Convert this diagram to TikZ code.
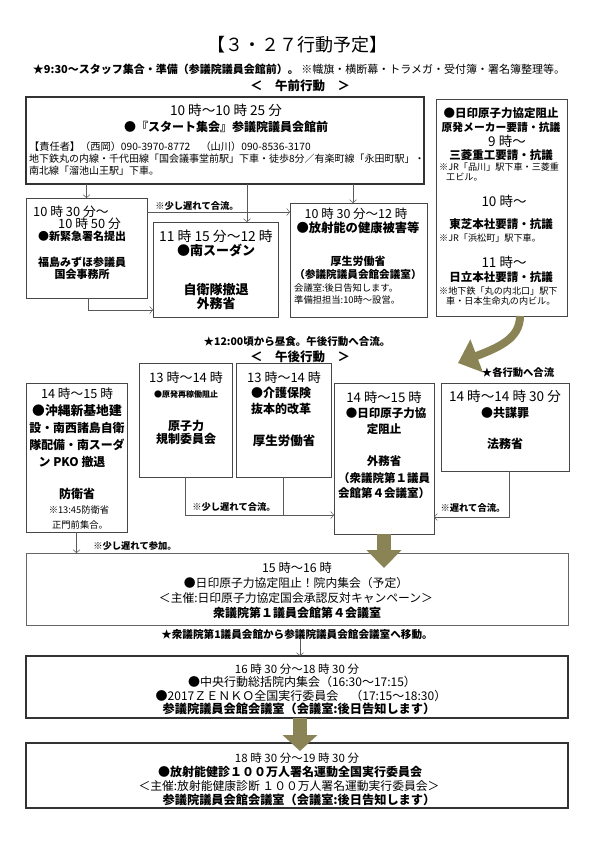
\documentclass[tikz,border=0pt]{standalone}
\usepackage{fontspec}
\setmainfont{Noto Sans CJK JP}
\usetikzlibrary{arrows.meta,fit}
\definecolor{khaki}{RGB}{137,131,85}
\tikzset{
 bx/.style={draw=black!72, line width=0.7pt, inner sep=0pt, outer sep=0pt},
 thbx/.style={draw=black!80, line width=1.6pt, inner sep=0pt, outer sep=0pt},
 tx/.style={inner sep=0pt, text height=9pt, text depth=1pt, font=\fontsize{11.5}{13}\selectfont},
 tm/.style={tx, font=\fontsize{#1}{13}\selectfont},
 tm/.default=11,
 bt/.style={tx, font=\bfseries\fontsize{#1}{13}\selectfont},
 bt/.default=11.5,
 sm/.style={tx, font=\fontsize{#1}{11}\selectfont},
 sm/.default=9.3,
 lb/.style={tx, font=\bfseries\fontsize{#1}{10}\selectfont},
 lb/.default=9.3,
 conn/.style={draw=black!65, line width=0.5pt, -{Straight Barb[length=3pt,width=7pt]}},
 ln/.style={draw=black!65, line width=0.5pt},
 bigarr/.style={draw=khaki, line width=14pt, -{Triangle[length=18pt,width=34pt]}},
}
\begin{document}
\begin{tikzpicture}[x=1pt,y=-1pt]
\useasboundingbox (0,0) rectangle (595,841);
\fill[white] (0,0) rectangle (595,841);

% header
\node[tm=18] (title) at (297,47) {【３・２７行動予定】};
\node[tm=11] (prep) at (299,69) {\textbf{★9:30～スタッフ集合・準備（参議院議員会館前）。} ※幟旗・横断幕・トラメガ・受付簿・署名簿整理等。};
\node[bt=12.5] (am) at (300,86) {＜　午前行動　＞};

% top box
\node[thbx, fit={(26,97)(424,184)}] (T) {};
\node[tm=13.6] (t1) at (226,111) {10 時～10 時 25 分};
\node[bt=12] (t2) at (226,127) {●『スタート集会』参議院議員会館前};
\node[sm=10.2, anchor=west] (t3) at (29,146) {【責任者】（西岡）090-3970-8772　（山川）090-8536-3170};
\node[sm=10, anchor=west] (t4) at (29,158) {地下鉄丸の内線・千代田線「国会議事堂前駅」下車・徒歩8分／有楽町線「永田町駅」・};
\node[sm=10, anchor=west] (t5) at (29,170) {南北線「溜池山王駅」下車。};

% right column box D
\node[bx, fit={(436,99)(567,316)}] (D) {};
\node[bt] (d1) at (501,113) {●日印原子力協定阻止};
\node[bt=10.8] (d2) at (501,127) {原発メーカー要請・抗議};
\node[tm=13.5] (d3) at (507,142) {9 時～};
\node[bt] (d4) at (501,155) {三菱重工要請・抗議};
\node[sm=9.1, anchor=west] (d5) at (439,166) {※JR「品川」駅下車・三菱重};
\node[sm=9.1, anchor=west] (d6) at (446,176) {工ビル。};
\node[tm=13.5] (d7) at (504,202) {10 時～};
\node[bt] (d8) at (501,224) {東芝本社要請・抗議};
\node[sm=9.1, anchor=west] (d9) at (439,237) {※JR「浜松町」駅下車。};
\node[tm=13.5] (d10) at (504,263) {11 時～};
\node[bt] (d11) at (501,277) {日立本社要請・抗議};
\node[sm=9.1, anchor=west] (d12) at (439,290) {※地下鉄「丸の内北口」駅下};
\node[sm=9.1, anchor=west] (d13) at (446,300) {車・日本生命丸の内ビル。};

% box A
\node[bx, fit={(26,198)(147,298)}] (A) {};
\node[tm=12.8, anchor=west] (a1) at (33,212) {10 時 30 分～};
\node[tm=12.8, anchor=west] (a2) at (58,224) {10 時 50 分};
\node[bt=11] (a3) at (82,236) {●新緊急署名提出};
\node[bt=11] (a4) at (82,262) {福島みずほ参議員};
\node[bt=11] (a5) at (82,274) {国会事務所};

% box B
\node[bx, fit={(153,222)(278,317)}] (B) {};
\node[tm=13.8] (b1) at (216,237) {11 時 15 分～12 時};
\node[bt=13] (b2) at (216,251) {●南スーダン};
\node[bt=13] (b3) at (216,290) {自衛隊撤退};
\node[bt=13] (b4) at (216,304) {外務省};

% box C
\node[bx, fit={(290,203)(427,317)}] (C) {};
\node[tm=12.5] (c1) at (356,214) {10 時 30 分～12 時};
\node[bt=12.3] (c2) at (358,228) {●放射能の健康被害等};
\node[bt=11] (c3) at (358,261) {厚生労働省};
\node[bt=10.6] (c4) at (358,274) {（参議院議員会館会議室）};
\node[sm, anchor=west] (c5) at (294,287) {会議室:後日告知します。};
\node[sm, anchor=west] (c6) at (294,299) {準備担担当:10時～設営。};

% morning connectors
\draw[conn] (T.south -| A.north) -- (A.north);
\draw[conn] (T.south -| 247,0) -- (B.north -| 247,0);
\draw[conn] (T.south -| 353,0) -- (C.north -| 353,0);
\draw[conn] (A.east |- 0,212) -- (C.west |- 0,212);
\node[lb] (l1) at (197,205) {※少し遅れて合流。};
\draw[conn] (A.south -| 88,0) |- (B.west |- 0,310);

% curved arrow
\draw[draw=khaki, line width=8pt, -{Triangle[length=20pt,width=34pt]}] (D.south -| 520,0) .. controls (520,338) and (500,347) .. (458,363);

% afternoon header
\node[lb=10.5] (noon) at (297,341) {★12:00頃から昼食。午後行動へ合流。};
\node[bt=12.5] (pm) at (300,357) {＜　午後行動　＞};
\node[lb=10.3] (each) at (518,372) {★各行動へ合流};

% box E
\node[bx, fit={(26,383)(127,532)}] (E) {};
\node[tm=12.7] (e1) at (77,394) {14 時～15 時};
\node[bt=12.8] (e2) at (77,411) {●沖縄新基地建};
\node[bt=11.9] (e3) at (77,428) {設・南西諸島自衛};
\node[bt=11.9] (e4) at (77,445) {隊配備・南スーダ};
\node[bt=11.9] (e5) at (72,462) {ン PKO 撤退};
\node[bt=12] (e6) at (77,494) {防衛省};
\node[sm] (e7) at (79,509) {※13:45防衛省};
\node[sm] (e8) at (80,524) {正門前集合。};

% box F
\node[bx, fit={(139,363)(232,477)}] (F) {};
\node[tm=13] (f1) at (186,378) {13 時～14 時};
\node[bt=8] (f2) at (186,393) {●原発再稼働阻止};
\node[bt=12] (f3) at (186,426) {原子力};
\node[bt=12] (f4) at (186,439) {規制委員会};

% box G
\node[bx, fit={(236,363)(331,477)}] (G) {};
\node[tm=13] (g1) at (284,378) {13 時～14 時};
\node[bt=12] (g2) at (281,393) {●介護保険};
\node[bt=12] (g3) at (281,409) {抜本的改革};
\node[bt=12.5] (g4) at (284,441) {厚生労働省};

% box H
\node[bx, fit={(334,383)(434,534)}] (H) {};
\node[tm=13.3] (h1) at (384,398) {14 時～15 時};
\node[bt] (h2) at (386,413) {●日印原子力協};
\node[bt] (h3) at (384,429) {定阻止};
\node[bt] (h4) at (384,461) {外務省};
\node[bt] (h5) at (384,478) {（衆議院第１議員};
\node[bt] (h6) at (384,493) {会館第４会議室）};

% box I
\node[bx, fit={(441,383)(569,471)}] (I) {};
\node[tm=13.6] (i1) at (505,397) {14 時～14 時 30 分};
\node[bt=12] (i2) at (505,413) {●共謀罪};
\node[bt=12] (i3) at (505,444) {法務省};

% afternoon connectors
\draw[conn] (F.south) |- (H.west |- 0,515);
\draw[ln] (G.south) -- (G.south |- 0,515);
\node[lb] (l2) at (234,506) {※少し遅れて合流。};
\draw[conn] (I.south -| 509,0) |- (H.east |- 0,517);
\node[lb] (l3) at (473,507) {※遅れて合流。};

% box J
\node[bx, draw=black!60, fit={(26,553)(568,625)}] (J) {};
\draw[conn] (E.south) -- (E.south |- J.north);
\node[lb] (l4) at (135,545) {※少し遅れて参加。};
\draw[bigarr] (H.south) -- (H.south |- 0,568);
\node[tm=12.3] (j1) at (297,568) {15 時～16 時};
\node[tm=11.8] (j2) at (296,583) {●日印原子力協定阻止！院内集会（予定）};
\node[tm=11.8] (j3) at (296,598) {＜主催:日印原子力協定国会承認反対キャンペーン＞};
\node[bt=12] (j4) at (297,613) {衆議院第１議員会館第４会議室};

\node[lb=10.6] (mv) at (297,634) {★衆議院第1議員会館から参議院議員会館会議室へ移動。};

% box K
\node[thbx, fit={(26,656)(568,718)}] (K) {};
\draw[conn] (mv.south -| 300,0) -- (K.north -| 300,0);
\node[tm=11.5] (k1) at (297,669) {16 時 30 分～18 時 30 分};
\node[tm=12] (k2) at (302,682) {●中央行動総括院内集会（16:30～17:15）};
\node[tm=12] (k3) at (301,696) {●2017ＺＥＮＫＯ全国実行委員会　（17:15～18:30）};
\node[bt=12.2] (k4) at (299,709) {参議院議員会館会議室（会議室:後日告知します）};

% box L
\node[thbx, fit={(26,743)(568,808)}] (L) {};
\draw[bigarr, -{Triangle[length=16pt,width=34pt]}] (K.south -| 300,0) -- (300,751);
\node[tm=11.5] (m1) at (297,758) {18 時 30 分～19 時 30 分};
\node[bt=12] (m2) at (290,772) {●放射能健診１００万人署名運動全国実行委員会};
\node[tm=11.8] (m3) at (289,786) {＜主催:放射能健康診断 １００万人署名運動実行委員会＞};
\node[bt=12.2] (m4) at (299,800) {参議院議員会館会議室（会議室:後日告知します）};
\end{tikzpicture}
\end{document}
